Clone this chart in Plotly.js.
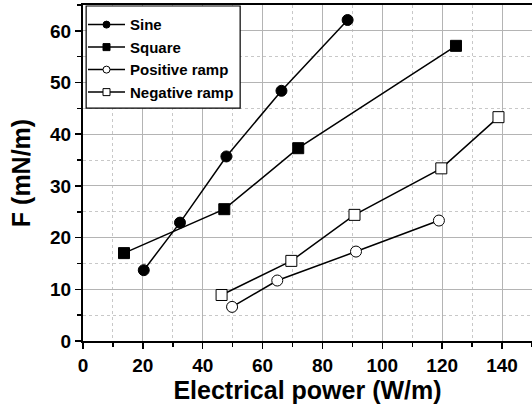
<!DOCTYPE html>
<html><head><meta charset="utf-8">
<script src="https://cdn.plot.ly/plotly-3.0.1.min.js"></script>
<style>html,body{margin:0;padding:0;background:#fff}#c{width:532px;height:405px}</style>
</head><body><div id="c"></div>
<script>
const seriesNames = ["Sine", "Square", "Positive ramp", "Negative ramp"];
const sineX = [20.3, 32.4, 47.9, 66.3, 88.4];
const sineY = [13.7, 22.9, 35.7, 48.4, 62.1];
const squareX = [13.7, 47.2, 71.9, 124.6];
const squareY = [17.0, 25.5, 37.3, 57.1];
const posRampX = [49.8, 64.9, 91.2, 118.9];
const posRampY = [6.6, 11.7, 17.3, 23.3];
const negRampX = [46.3, 69.6, 90.7, 119.7, 138.8];
const negRampY = [8.9, 15.5, 24.4, 33.4, 43.3];

const FONT = "Liberation Sans, Arial, Helvetica, sans-serif";
const symbols = ["circle", "square", "circle-open", "square-open"];
const xs = [sineX, squareX, posRampX, negRampX];
const ys = [sineY, squareY, posRampY, negRampY];

const traces = [];
for (let i = 0; i < 4; i++) {
  const open = symbols[i].indexOf("open") >= 0;
  traces.push({
    x: xs[i], y: ys[i], mode: "lines+markers", type: "scatter", showlegend: false,
    line: {color: "#000", width: 1.5},
    marker: {symbol: open ? symbols[i].replace("-open","") : symbols[i], size: 11,
             color: open ? "#fff" : "#000", line: {color: "#000", width: 1}}
  });
}
for (let i = 0; i < 4; i++) {
  const open = symbols[i].indexOf("open") >= 0;
  traces.push({
    x: [null], y: [null], mode: "lines+markers", type: "scatter", name: seriesNames[i],
    line: {color: "#000", width: 1.5},
    marker: {symbol: open ? symbols[i].replace("-open","") : symbols[i], size: 7,
             color: open ? "#fff" : "#000", line: {color: "#000", width: 1}}
  });
}

const axisCommon = {
  showline: true, linecolor: "#000", linewidth: 2,
  ticks: "outside", ticklen: 6, tickwidth: 1.5, tickcolor: "#000",
  showgrid: true, gridcolor: "#b4b4b4", gridwidth: 1,
  zeroline: false,
  tickfont: {family: FONT, size: 19, color: "#000", weight: "bold"}
};

const layout = {
  width: 532, height: 405,
  margin: {l: 83, r: 0, t: 5, b: 64},
  paper_bgcolor: "#fff", plot_bgcolor: "#fff",
  font: {family: FONT, color: "#000"},
  xaxis: Object.assign({}, axisCommon, {
    range: [0, 150], dtick: 20, tick0: 0, mirror: true,
    minor: {dtick: 10, showgrid: true, gridcolor: "#c8c8c8", griddash: "dot", gridwidth: 1,
            ticks: "outside", ticklen: 4, tickcolor: "#000", tickwidth: 1.5},
    title: {text: "Electrical power (W/m)", standoff: 6,
            font: {family: FONT, size: 25, color: "#000", weight: "bold"}}
  }),
  yaxis: Object.assign({}, axisCommon, {
    range: [0, 65], dtick: 10, tick0: 0,
    minor: {dtick: 5, showgrid: true, gridcolor: "#c8c8c8", griddash: "dot", gridwidth: 1,
            ticks: "outside", ticklen: 4, tickcolor: "#000", tickwidth: 1.5},
    title: {text: "F (mN/m)", standoff: 12,
            font: {family: FONT, size: 25, color: "#000", weight: "bold"}}
  }),
  shapes: [{type: "rect", xref: "paper", yref: "paper", x0: 0.007, x1: 0.35, y0: 0.693, y1: 0.997,
            line: {color: "#000", width: 1.2}, fillcolor: "#fff", layer: "above"}],
  legend: {x: 0.0, y: 0.99, xanchor: "left", yanchor: "top", bgcolor: "rgba(0,0,0,0)",
           borderwidth: 0, tracegroupgap: 0, itemwidth: 37,
           font: {family: FONT, size: 15, color: "#000", weight: "bold"}},
  showlegend: true
};

Plotly.newPlot("c", traces, layout, {staticPlot: true, displayModeBar: false});
</script>
</body></html>
